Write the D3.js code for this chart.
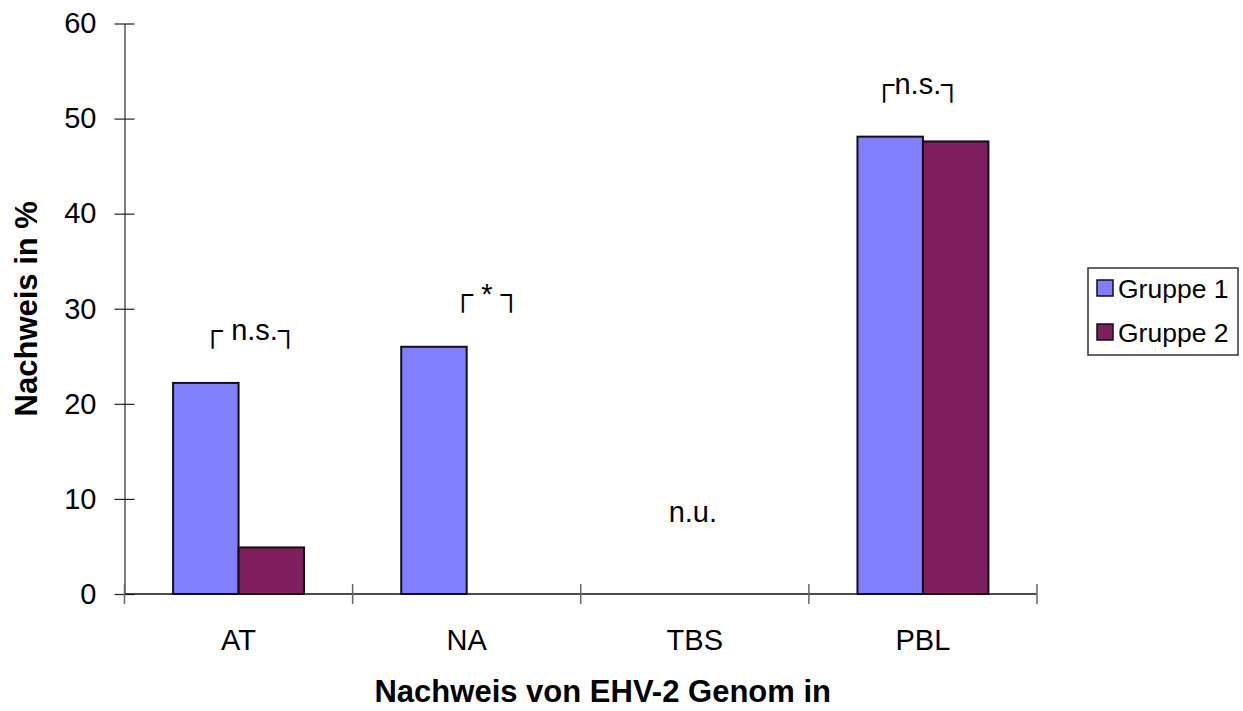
<!DOCTYPE html>
<html>
<head>
<meta charset="utf-8">
<script src="https://cdn.jsdelivr.net/npm/d3@7"></script>
<style>
  html, body { margin: 0; padding: 0; background: #fff; }
  svg { display: block; }
  text { font-family: "Liberation Sans", Arial, sans-serif; fill: #000; }
</style>
</head>
<body>
<svg id="chart" width="1243" height="711"></svg>
<script>
// ---- data ----
const categories = ["AT", "NA", "TBS", "PBL"];
const seriesNames = ["Gruppe 1", "Gruppe 2"];
const gruppe1 = [22.2, 26, null, 48.1];
const gruppe2 = [4.9, 0, null, 47.6];
const yTicks = [0, 10, 20, 30, 40, 50, 60];
const annotations = [
  { cat: "AT", label: "┌ n.s.┐" },
  { cat: "NA", label: "┌ * ┐" },
  { cat: "PBL", label: "┌n.s.┐" }
];
const notTested = { cat: "TBS", label: "n.u." };
const xTitle = "Nachweis von EHV-2 Genom in";
const yTitle = "Nachweis in %";

// ---- layout ----
const colors = ["#8080ff", "#7f1f5f"];
const plot = { left: 124.5, right: 1037, top: 23.5, bottom: 594 };
const annOffsets = { AT: -36, NA: -14, PBL: -49 };

const svg = d3.select("#chart");
const x = d3.scaleBand().domain(categories).range([plot.left, plot.right]);
const xs = d3.scaleBand().domain(seriesNames)
  .range([x.bandwidth() * 0.213, x.bandwidth() * 0.787]);
const y = d3.scaleLinear().domain([0, 60]).range([plot.bottom, plot.top]);

// bars
const rows = categories.map((c, i) => ({ cat: c, vals: [gruppe1[i], gruppe2[i]] }));
const g = svg.append("g");
rows.forEach(r => {
  r.vals.forEach((v, j) => {
    if (v === null || v === 0) return;
    g.append("rect")
      .attr("x", x(r.cat) + xs(seriesNames[j]))
      .attr("y", y(v))
      .attr("width", xs.bandwidth())
      .attr("height", y(0) - y(v))
      .attr("fill", colors[j])
      .attr("stroke", "#111")
      .attr("stroke-width", 2);
  });
});

// y axis
const yAxis = svg.append("g").attr("transform", `translate(${plot.left},0)`)
  .call(d3.axisLeft(y).tickValues(yTicks).tickSizeInner(10).tickSizeOuter(0).tickPadding(18));
yAxis.select(".domain").attr("stroke", "#555").attr("stroke-width", 1.5);
yAxis.selectAll(".tick line").attr("x1", 10).attr("stroke", "#222").attr("stroke-width", 1.2);
yAxis.selectAll(".tick text").style("font-size", "29px").style("font-family", "Liberation Sans, Arial, sans-serif");

// x axis
const bounds = categories.map(c => x(c)).concat([x(categories[categories.length - 1]) + x.bandwidth()]);
svg.append("line").attr("x1", plot.left).attr("x2", plot.right)
  .attr("y1", y(0)).attr("y2", y(0)).attr("stroke", "#111").attr("stroke-width", 1.5);
svg.selectAll(".xt").data(bounds).enter().append("line")
  .attr("x1", d => d).attr("x2", d => d)
  .attr("y1", y(0) - 10).attr("y2", y(0) + 10)
  .attr("stroke", "#666").attr("stroke-width", 1.5);
svg.selectAll(".xl").data(categories).enter().append("text")
  .attr("x", d => x(d) + x.bandwidth() / 2)
  .attr("y", y(0) + 56)
  .attr("text-anchor", "middle")
  .style("font-size", "29px")
  .text(d => d);

// titles
svg.append("text").attr("x", (plot.left + plot.right) / 2 + 22).attr("y", 702)
  .attr("text-anchor", "middle").style("font-size", "31px").style("font-weight", "bold")
  .text(xTitle);
svg.append("text")
  .attr("transform", `translate(37,${(plot.top + plot.bottom) / 2}) rotate(-90)`)
  .attr("text-anchor", "middle").style("font-size", "31px").style("font-weight", "bold")
  .text(yTitle);

// annotations
annotations.forEach(a => {
  const i = categories.indexOf(a.cat);
  const top = d3.max([gruppe1[i], gruppe2[i]]);
  svg.append("text")
    .attr("x", x(a.cat) + x.bandwidth() / 2 + annOffsets[a.cat])
    .attr("y", y(top) - 43)
    .style("font-size", "29px")
    .text(a.label);
});
svg.append("text")
  .attr("x", x(notTested.cat) + x.bandwidth() / 2 - 2)
  .attr("y", y(0) - 72)
  .attr("text-anchor", "middle")
  .style("font-size", "29px")
  .text(notTested.label);

// legend
const lg = svg.append("g").attr("transform", "translate(1088,268)");
lg.append("rect").attr("width", 150).attr("height", 87)
  .attr("fill", "#fff").attr("stroke", "#333").attr("stroke-width", 1.5);
seriesNames.forEach((s, j) => {
  const row = lg.append("g").attr("transform", `translate(9,${20 + j * 44})`);
  row.append("rect").attr("x", 0).attr("y", -8).attr("width", 16).attr("height", 16)
    .attr("fill", colors[j]).attr("stroke", "#111").attr("stroke-width", 1.5);
  row.append("text").attr("x", 21).attr("y", 10).style("font-size", "26.5px").text(s);
});
</script>
</body>
</html>
